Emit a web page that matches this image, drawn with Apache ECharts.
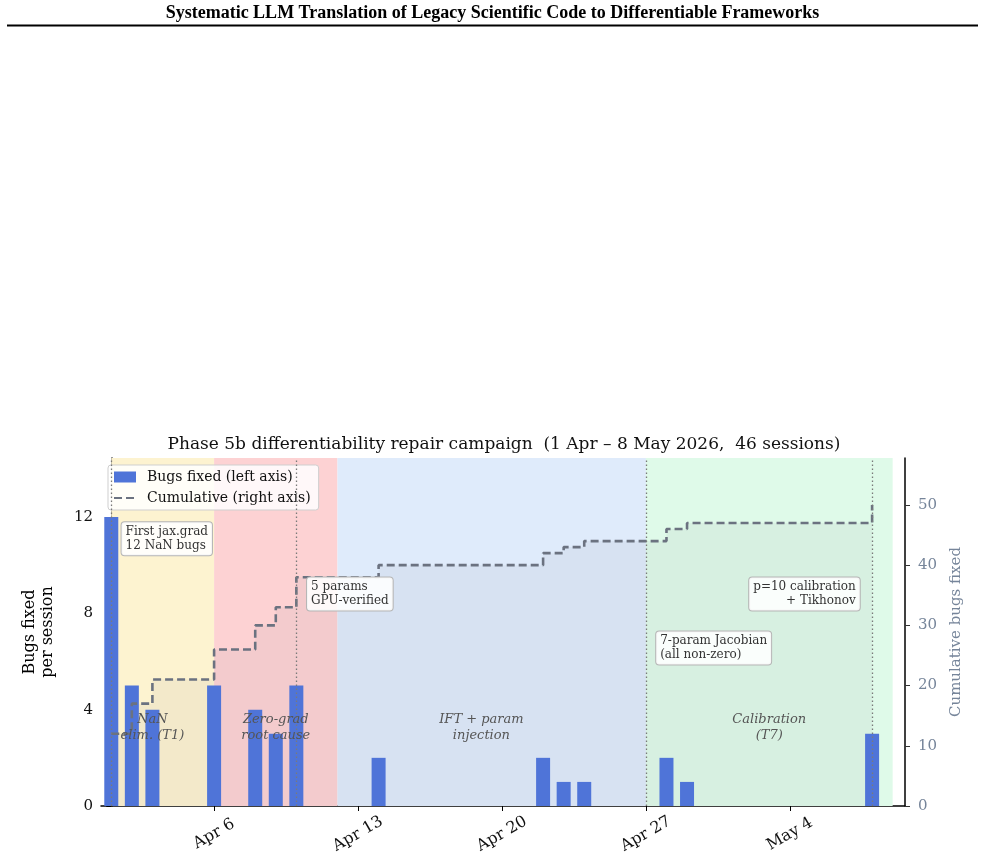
<!DOCTYPE html>
<html>
<head>
<meta charset="UTF-8">
<title>Phase 5b differentiability repair campaign</title>
<script src="https://cdn.jsdelivr.net/npm/echarts@6/dist/echarts.min.js"></script>
<style>
html, body { margin: 0; padding: 0; background: #fff; }
#main { width: 985px; height: 860px; }
</style>
</head>
<body>
<div id="main"></div>
<script>
// sessions that fixed bugs
var sessionDates = ['2026-04-01', '2026-04-02', '2026-04-03', '2026-04-06', '2026-04-08', '2026-04-09', '2026-04-10',
                    '2026-04-14', '2026-04-22', '2026-04-23', '2026-04-24', '2026-04-28', '2026-04-29', '2026-05-08'];
var bugsFixed  = [12, 5, 4, 5, 4, 3, 5, 2, 2, 1, 1, 2, 1, 3];
var cumulative = [12, 17, 21, 26, 30, 33, 38, 40, 42, 43, 44, 46, 47, 50];

// campaign phases
var phaseNames  = ['NaN\nelim. (T1)', 'Zero-grad\nroot cause', 'IFT + param\ninjection', 'Calibration\n(T7)'];
var phaseStart  = ['2026-04-01', '2026-04-06', '2026-04-12', '2026-04-27'];
var phaseEnd    = ['2026-04-06', '2026-04-12', '2026-04-27', '2026-05-09'];
var phaseColors = ['#fdf3d0', '#fdd2d3', '#dfebfb', '#dffae9'];

// milestone sessions (dotted lines)
var milestoneDates = ['2026-04-01', '2026-04-10', '2026-04-27', '2026-05-08'];

var tickDates  = ['2026-04-06', '2026-04-13', '2026-04-20', '2026-04-27', '2026-05-04'];
var tickLabels = ['Apr 6', 'Apr 13', 'Apr 20', 'Apr 27', 'May 4'];
var leftTicks  = [0, 4, 8, 12];
var rightTicks = [0, 10, 20, 30, 40, 50];

var SERIF = 'DejaVu Serif';
var GREY = '#6b7280';
var SLATE = '#76859a';

// days since 1 Apr
function day(s) {
	var p = s.split('-');
	return (Date.UTC(+p[0], +p[1] - 1, +p[2]) - Date.UTC(2026, 3, 1)) / 86400000;
}

var barData = sessionDates.map(function (d, i) { return [day(d), bugsFixed[i]]; });
var cumData = sessionDates.map(function (d, i) { return [day(d), cumulative[i]]; });
var tickDays = tickDates.map(day);

// annotation boxes: [text, x day, y (left axis), align]
var notes = [
	['First jax.grad\n12 NaN bugs', 0.5, 11.1, 'left'],
	['5 params\nGPU-verified', 9.52, 8.8, 'left'],
	['7-param Jacobian\n(all non-zero)', 26.5, 6.56, 'left'],
	['p=10 calibration\n+ Tikhonov', 36.4, 8.8, 'right']
];
var phaseLabelX = [2.0, 8.0, 18.0, 32.0];

var markData = notes.map(function (n) {
	return {
		coord: [n[1], n[2]],
		label: {
			formatter: n[0], align: n[3], verticalAlign: 'middle',
			fontFamily: SERIF, fontSize: 12, lineHeight: 14, color: '#333',
			backgroundColor: 'rgba(255,255,255,0.88)', borderColor: '#b5b5b5',
			borderWidth: 1, borderRadius: 3, padding: [3, 4, 2, 4]
		}
	};
});
phaseNames.forEach(function (name, i) {
	markData.push({
		coord: [phaseLabelX[i], 3.24],
		label: {
			formatter: name, align: 'center', verticalAlign: 'middle',
			fontFamily: SERIF, fontStyle: 'italic', fontSize: 13, lineHeight: 16, color: '#555'
		}
	});
});

var myChart = echarts.init(document.getElementById('main'));
myChart.setOption({
	animation: false,
	backgroundColor: '#fff',
	title: {
		text: 'Phase 5b differentiability repair campaign  (1 Apr \u2013 8 May 2026,  46 sessions)',
		left: 499, top: 431, textAlign: 'center',
		textStyle: { fontFamily: SERIF, fontSize: 17, fontWeight: 'normal', color: '#111' }
	},
	graphic: [
		{ type: 'text', left: 'center', top: 4,
		  style: { text: 'Systematic LLM Translation of Legacy Scientific Code to Differentiable Frameworks',
		           font: 'bold 18px "Liberation Serif"', fill: '#000' } },
		{ type: 'line', shape: { x1: 7, y1: 25.5, x2: 978, y2: 25.5 }, style: { stroke: '#000', lineWidth: 2 } }
	],
	legend: {
		orient: 'vertical', left: 108, top: 465,
		itemWidth: 22, itemHeight: 11, itemGap: 7,
		padding: [5, 8, 5, 5],
		backgroundColor: 'rgba(255,255,255,0.85)', borderColor: '#cfcfcf', borderWidth: 1, borderRadius: 3,
		textStyle: { fontFamily: SERIF, fontSize: 14, color: '#111', padding: [0, 0, 0, 6] },
		data: [
			{ name: 'Bugs fixed (left axis)', icon: 'rect' },
			{ name: 'Cumulative (right axis)',
			  itemStyle: { color: 'rgba(0,0,0,0)', borderColor: 'rgba(0,0,0,0)', borderWidth: 0, opacity: 0 } }
		]
	},
	grid: { left: 101, right: 80, top: 458, bottom: 54 },
	xAxis: {
		type: 'value', min: -0.5, max: 38.6,
		splitLine: { show: false },
		axisLine: { lineStyle: { color: '#000', width: 1.5 } },
		axisTick: { show: true, customValues: tickDays, length: 5, lineStyle: { color: '#000' } },
		axisLabel: {
			customValues: tickDays, rotate: 30, margin: 28,
			align: 'center', verticalAlign: 'middle',
			fontFamily: SERIF, fontSize: 16, color: '#111',
			formatter: function (v) { return tickLabels[tickDays.indexOf(v)] || ''; }
		}
	},
	yAxis: [{
		type: 'value', min: 0, max: 14.45,
		name: 'Bugs fixed\nper session', nameLocation: 'middle', nameGap: 44, nameRotate: 90,
		nameTextStyle: { fontFamily: SERIF, fontSize: 16, color: '#000', lineHeight: 18 },
		splitLine: { show: false },
		axisLine: { show: true, lineStyle: { color: '#000', width: 1.5 } },
		axisTick: { show: true, customValues: leftTicks, length: 5, lineStyle: { color: '#000' } },
		axisLabel: { customValues: leftTicks, fontFamily: SERIF, fontSize: 15, color: '#111', margin: 8 }
	}, {
		type: 'value', min: 0, max: 57.8, position: 'right',
		name: 'Cumulative bugs fixed', nameLocation: 'middle', nameGap: 44, nameRotate: 90,
		nameTextStyle: { fontFamily: SERIF, fontSize: 15, color: SLATE },
		splitLine: { show: false },
		axisLine: { show: true, lineStyle: { color: '#000', width: 1.5 } },
		axisTick: { show: true, customValues: rightTicks, length: 5, lineStyle: { color: '#333' } },
		axisLabel: { customValues: rightTicks, fontFamily: SERIF, fontSize: 15, color: SLATE, margin: 13 }
	}],
	series: [{
		name: 'Bugs fixed (left axis)',
		type: 'bar', barWidth: 14, z: 2,
		itemStyle: { color: '#4f74d8' },
		data: barData,
		markArea: {
			silent: true,
			data: phaseStart.map(function (s, i) {
				return [{ xAxis: day(s), itemStyle: { color: phaseColors[i] } }, { xAxis: day(phaseEnd[i]) }];
			})
		},
		markLine: {
			silent: true, symbol: 'none',
			label: { show: false },
			lineStyle: { color: '#7a7a7a', type: [1.5, 2.5], width: 1.3 },
			data: milestoneDates.map(function (d) { return { xAxis: day(d) }; })
		},
		markPoint: {
			silent: true, symbol: 'rect', symbolSize: 0,
			label: { show: true, position: 'inside' },
			data: markData
		}
	}, {
		name: 'cumArea',
		type: 'line', yAxisIndex: 1, step: 'end', z: 1.5,
		symbol: 'none', silent: true,
		lineStyle: { width: 0, opacity: 0 },
		areaStyle: { color: GREY, opacity: 0.07 },
		data: cumData
	}, {
		name: 'Cumulative (right axis)',
		type: 'line', yAxisIndex: 1, step: 'end', z: 3,
		symbol: 'none',
		itemStyle: { color: GREY },
		lineStyle: { color: GREY, width: 2.6, type: [8, 4] },
		data: cumData
	}]
});
window.onresize = function () { myChart.resize(); };
</script>
</body>
</html>
